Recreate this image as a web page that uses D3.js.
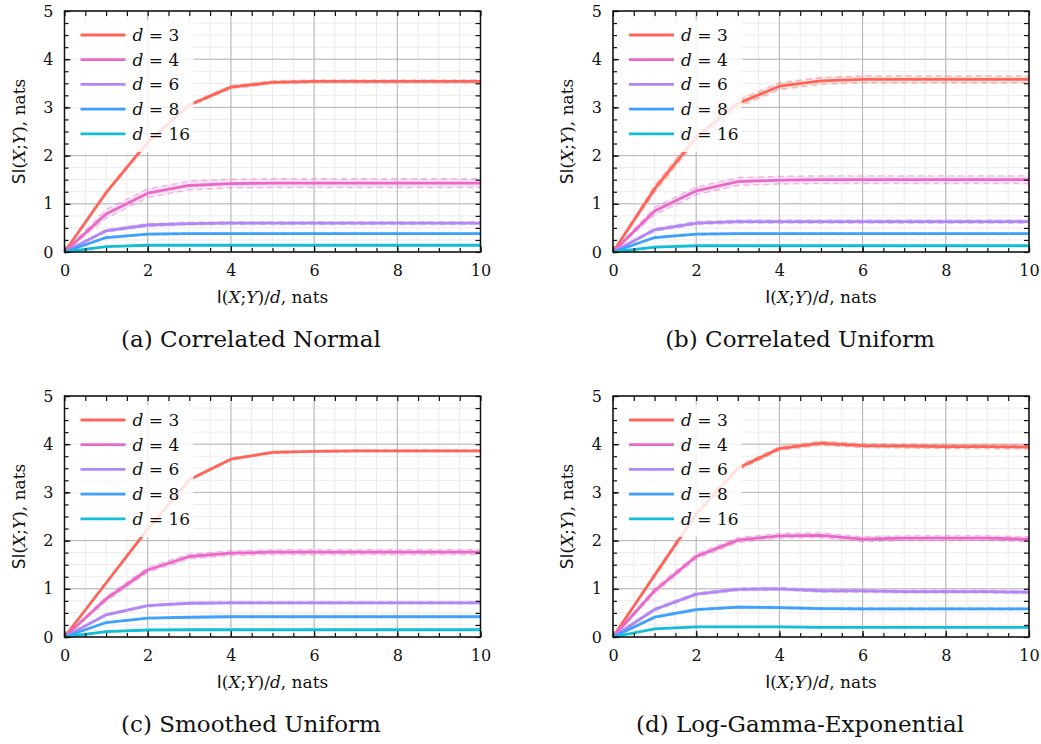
<!DOCTYPE html>
<html><head><meta charset="utf-8">
<script src="https://cdn.jsdelivr.net/npm/d3@7"></script>
<style>body{margin:0;background:#fff}svg{display:block}</style>
</head><body><svg id="c" width="1041" height="744"></svg>
<script>
// ---------- data ----------
const xValues = [0,1,2,3,4,5,6,7,8,9,10];
const dims = [3,4,6,8,16];
const colors = ["#ff6459","#eb67c8","#b286f7","#3ea1fb","#12bdd8"];
const captions = ["(a) Correlated Normal","(b) Correlated Uniform","(c) Smoothed Uniform","(d) Log-Gamma-Exponential"];
const xTicks = [0,2,4,6,8,10];
const yTicks = [0,1,2,3,4,5];

const normalMeans = [
  [0,1.23,2.28,3.05,3.42,3.52,3.54,3.54,3.54,3.54,3.54],
  [0,0.79,1.22,1.38,1.42,1.43,1.43,1.43,1.43,1.43,1.43],
  [0,0.44,0.56,0.59,0.60,0.60,0.60,0.60,0.60,0.60,0.60],
  [0,0.30,0.37,0.38,0.38,0.38,0.38,0.38,0.38,0.38,0.38],
  [0,0.11,0.14,0.14,0.14,0.14,0.14,0.14,0.14,0.14,0.14]
];
const normalSpread = [0.03,0.09,0.03,0.015,0.005];

const uniformMeans = [
  [0,1.31,2.38,3.08,3.44,3.55,3.58,3.58,3.58,3.58,3.58],
  [0,0.85,1.27,1.46,1.49,1.50,1.50,1.50,1.50,1.50,1.50],
  [0,0.46,0.60,0.63,0.63,0.63,0.63,0.63,0.63,0.63,0.63],
  [0,0.30,0.37,0.38,0.38,0.38,0.38,0.38,0.38,0.38,0.38],
  [0,0.10,0.13,0.13,0.13,0.13,0.13,0.13,0.13,0.13,0.13]
];
const uniformSpread = [0.07,0.08,0.035,0.015,0.005];

const smoothedMeans = [
  [0,1.12,2.24,3.26,3.69,3.83,3.85,3.86,3.86,3.86,3.86],
  [0,0.79,1.39,1.67,1.74,1.76,1.76,1.76,1.76,1.76,1.76],
  [0,0.46,0.65,0.70,0.71,0.71,0.71,0.71,0.71,0.71,0.71],
  [0,0.30,0.39,0.41,0.42,0.42,0.42,0.42,0.42,0.42,0.42],
  [0,0.11,0.145,0.15,0.15,0.15,0.15,0.15,0.15,0.15,0.15]
];
const smoothedSpread = [0.02,0.05,0.02,0.01,0.005];

const logGammaMeans = [
  [0,1.28,2.55,3.50,3.91,4.02,3.97,3.96,3.95,3.95,3.94],
  [0,0.96,1.67,2.01,2.10,2.11,2.03,2.05,2.05,2.05,2.03],
  [0,0.57,0.89,0.99,1.00,0.96,0.955,0.94,0.94,0.94,0.93],
  [0,0.41,0.57,0.62,0.61,0.59,0.585,0.585,0.585,0.585,0.585],
  [0,0.17,0.21,0.21,0.21,0.20,0.20,0.20,0.20,0.20,0.20]
];
const logGammaSpread = [0.04,0.05,0.03,0.02,0.005];

const panelMeans = [normalMeans, uniformMeans, smoothedMeans, logGammaMeans];
const panelSpread = [normalSpread, uniformSpread, smoothedSpread, logGammaSpread];

// ---------- layout ----------
const W = 416, H = 241;
const origins = [[64.5,11],[613,11],[64.5,396],[613,396]];
const captionPos = [[251,347],[800,347],[251,732],[800,732]];
const SERIF = "'DejaVu Serif', serif";
const SANS = "'DejaVu Sans', sans-serif";

const svg = d3.select("#c");

origins.forEach(([x0,y0], p) => {
  const g = svg.append("g").attr("transform", `translate(${x0},${y0})`);
  const x = d3.scaleLinear().domain([0,10]).range([0,W]);
  const y = d3.scaleLinear().domain([0,5]).range([H,0]);

  const minorX = d3.range(0, 10.001, 0.5);
  const minorY = d3.range(0, 5.001, 0.25);

  // minor grid
  g.append("g").selectAll("line").data(minorX).join("line")
    .attr("x1", d=>x(d)).attr("x2", d=>x(d)).attr("y1",0).attr("y2",H)
    .attr("stroke","#ebebeb").attr("stroke-width",1);
  g.append("g").selectAll("line").data(minorY).join("line")
    .attr("y1", d=>y(d)).attr("y2", d=>y(d)).attr("x1",0).attr("x2",W)
    .attr("stroke","#ebebeb").attr("stroke-width",1);
  // major grid
  g.append("g").selectAll("line").data(xTicks).join("line")
    .attr("x1", d=>x(d)).attr("x2", d=>x(d)).attr("y1",0).attr("y2",H)
    .attr("stroke","#b4b4b4").attr("stroke-width",1);
  g.append("g").selectAll("line").data(yTicks).join("line")
    .attr("y1", d=>y(d)).attr("y2", d=>y(d)).attr("x1",0).attr("x2",W)
    .attr("stroke","#b4b4b4").attr("stroke-width",1);

  const means = panelMeans[p], spread = panelSpread[p];

  // bands and lines
  means.forEach((vals, i) => {
    const pts = xValues.map((xv, k) => ({x: xv, m: vals[k], s: k === 0 ? 0 : spread[i]}));
    const col = colors[i];
    g.append("path").datum(pts)
      .attr("d", d3.area().x(d=>x(d.x)).y0(d=>y(d.m - d.s)).y1(d=>y(d.m + d.s)))
      .attr("fill", col).attr("fill-opacity", 0.15);
    [1,-1].forEach(sg => {
      g.append("path").datum(pts)
        .attr("d", d3.line().x(d=>x(d.x)).y(d=>y(d.m + sg*d.s)))
        .attr("fill","none").attr("stroke", col).attr("stroke-opacity",0.45)
        .attr("stroke-width",1.4).attr("stroke-dasharray","6,4");
    });
  });
  means.forEach((vals, i) => {
    g.append("path").datum(xValues.map((xv,k)=>[xv, vals[k]]))
      .attr("d", d3.line().x(d=>x(d[0])).y(d=>y(d[1])))
      .attr("fill","none").attr("stroke", colors[i]).attr("stroke-width",2.8)
      .attr("stroke-linejoin","round");
  });

  // legend
  const lg = g.append("g");
  lg.append("rect").attr("x",5).attr("y",9).attr("width",124).attr("height",132)
    .attr("fill","#fff").attr("fill-opacity",0.82);
  dims.forEach((dv, i) => {
    const yy = 24 + i*24.7;
    lg.append("line").attr("x1",16).attr("x2",61).attr("y1",yy).attr("y2",yy)
      .attr("stroke", colors[i]).attr("stroke-width",2.8);
    const t = lg.append("text").attr("x",68).attr("y",yy+6)
      .attr("font-family",SERIF).attr("font-size",17).attr("fill","#111");
    t.append("tspan").attr("font-style","italic").text("d");
    t.append("tspan").text(" = " + dv);
  });

  // axes (inward ticks)
  const styleAxis = sel => {
    sel.select(".domain").remove();
    sel.selectAll(".tick line").attr("stroke","#111").attr("stroke-width",1.2);
    sel.selectAll("text").attr("font-family",SERIF).attr("font-size",16).attr("fill","#111");
  };
  g.append("g").attr("transform",`translate(0,${H})`)
    .call(d3.axisBottom(x).tickValues(minorX).tickSizeInner(-4).tickSizeOuter(0).tickFormat(""))
    .call(styleAxis);
  g.append("g").attr("transform",`translate(0,${H})`)
    .call(d3.axisBottom(x).tickValues(xTicks).tickSizeInner(-6).tickSizeOuter(0).tickPadding(13).tickFormat(d3.format("d")))
    .call(styleAxis);
  g.append("g")
    .call(d3.axisTop(x).tickValues(minorX).tickSizeInner(-5).tickSizeOuter(0).tickFormat(""))
    .call(styleAxis);
  g.append("g")
    .call(d3.axisLeft(y).tickValues(minorY).tickSizeInner(-4).tickSizeOuter(0).tickFormat(""))
    .call(styleAxis);
  g.append("g")
    .call(d3.axisLeft(y).tickValues(yTicks).tickSizeInner(-6).tickSizeOuter(0).tickPadding(11).tickFormat(d3.format("d")))
    .call(styleAxis);
  g.append("g").attr("transform",`translate(${W},0)`)
    .call(d3.axisRight(y).tickValues(minorY).tickSizeInner(-5).tickSizeOuter(0).tickFormat(""))
    .call(styleAxis);

  // frame
  g.append("rect").attr("width",W).attr("height",H).attr("fill","none")
    .attr("stroke","#111").attr("stroke-width",1.5);

  // x label
  const xl = g.append("text").attr("x", W/2).attr("y", H+51).attr("text-anchor","middle")
    .attr("font-family",SERIF).attr("font-size",17).attr("fill","#111");
  xl.append("tspan").attr("font-family",SANS).text("I");
  xl.append("tspan").text("(");
  xl.append("tspan").attr("font-style","italic").text("X");
  xl.append("tspan").text(";");
  xl.append("tspan").attr("font-style","italic").text("Y");
  xl.append("tspan").text(")/");
  xl.append("tspan").attr("font-style","italic").text("d");
  xl.append("tspan").text(", nats");

  // y label
  const yl = g.append("text").attr("transform",`translate(-40,${H/2}) rotate(-90)`)
    .attr("text-anchor","middle")
    .attr("font-family",SERIF).attr("font-size",17).attr("fill","#111");
  yl.append("tspan").attr("font-family",SANS).text("SI");
  yl.append("tspan").text("(");
  yl.append("tspan").attr("font-style","italic").text("X");
  yl.append("tspan").text(";");
  yl.append("tspan").attr("font-style","italic").text("Y");
  yl.append("tspan").text("), nats");

  // caption
  svg.append("text").attr("x", captionPos[p][0]).attr("y", captionPos[p][1])
    .attr("text-anchor","middle").attr("font-family",SERIF).attr("font-size",23)
    .attr("fill","#111").text(captions[p]);
});
</script>
</body></html>
